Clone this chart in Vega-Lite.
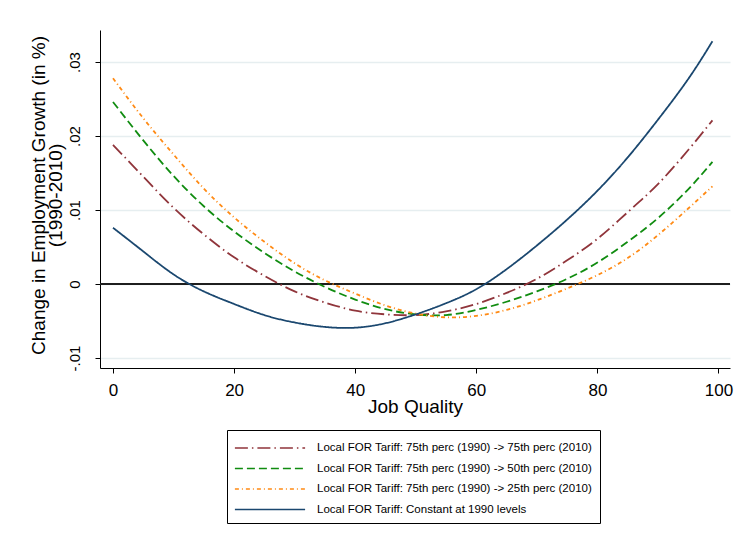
{
  "$schema": "https://vega.github.io/schema/vega-lite/v6.json",
  "width": 630,
  "height": 338,
  "autosize": {"type": "none"},
  "padding": {"left": 100, "top": 30, "right": 11, "bottom": 177},
  "background": "white",
  "config": {
    "font": "Liberation Sans",
    "view": {"stroke": null},
    "axis": {"labelColor": "black", "titleColor": "black", "domainColor": "black", "tickColor": "black", "titleFontWeight": "normal", "labelFlush": false}
  },
  "datasets": {
    "curves": [
      {"x": 0, "s": "r", "y": 0.0188}, {"x": 5, "s": "r", "y": 0.0145}, {"x": 10, "s": "r", "y": 0.0103}, {"x": 15, "s": "r", "y": 0.0067}, {"x": 20, "s": "r", "y": 0.0036}, {"x": 25, "s": "r", "y": 0.0011}, {"x": 30, "s": "r", "y": -0.0010}, {"x": 35, "s": "r", "y": -0.0025}, {"x": 40, "s": "r", "y": -0.0036}, {"x": 45, "s": "r", "y": -0.0041}, {"x": 50, "s": "r", "y": -0.0042}, {"x": 55, "s": "r", "y": -0.0037}, {"x": 60, "s": "r", "y": -0.0027}, {"x": 65, "s": "r", "y": -0.0012}, {"x": 70, "s": "r", "y": 0.0007}, {"x": 75, "s": "r", "y": 0.0032}, {"x": 80, "s": "r", "y": 0.0061}, {"x": 85, "s": "r", "y": 0.0097}, {"x": 90, "s": "r", "y": 0.0135}, {"x": 95, "s": "r", "y": 0.0181}, {"x": 99, "s": "r", "y": 0.0221},
      {"x": 0, "s": "g", "y": 0.0246}, {"x": 5, "s": "g", "y": 0.0194}, {"x": 10, "s": "g", "y": 0.0146}, {"x": 15, "s": "g", "y": 0.0105}, {"x": 20, "s": "g", "y": 0.0071}, {"x": 25, "s": "g", "y": 0.0042}, {"x": 30, "s": "g", "y": 0.0017}, {"x": 35, "s": "g", "y": -0.0004}, {"x": 40, "s": "g", "y": -0.0021}, {"x": 45, "s": "g", "y": -0.0034}, {"x": 50, "s": "g", "y": -0.0041}, {"x": 55, "s": "g", "y": -0.0042}, {"x": 60, "s": "g", "y": -0.0035}, {"x": 65, "s": "g", "y": -0.0024}, {"x": 70, "s": "g", "y": -0.0010}, {"x": 75, "s": "g", "y": 0.0007}, {"x": 80, "s": "g", "y": 0.0029}, {"x": 85, "s": "g", "y": 0.0057}, {"x": 90, "s": "g", "y": 0.0089}, {"x": 95, "s": "g", "y": 0.0128}, {"x": 99, "s": "g", "y": 0.0165},
      {"x": 0, "s": "o", "y": 0.0278}, {"x": 5, "s": "o", "y": 0.0224}, {"x": 10, "s": "o", "y": 0.0175}, {"x": 15, "s": "o", "y": 0.0129}, {"x": 20, "s": "o", "y": 0.0090}, {"x": 25, "s": "o", "y": 0.0057}, {"x": 30, "s": "o", "y": 0.0028}, {"x": 35, "s": "o", "y": 0.0005}, {"x": 40, "s": "o", "y": -0.0013}, {"x": 45, "s": "o", "y": -0.0029}, {"x": 50, "s": "o", "y": -0.0040}, {"x": 55, "s": "o", "y": -0.0045}, {"x": 60, "s": "o", "y": -0.0043}, {"x": 65, "s": "o", "y": -0.0035}, {"x": 70, "s": "o", "y": -0.0022}, {"x": 75, "s": "o", "y": -0.0006}, {"x": 80, "s": "o", "y": 0.0012}, {"x": 85, "s": "o", "y": 0.0035}, {"x": 90, "s": "o", "y": 0.0066}, {"x": 95, "s": "o", "y": 0.0102}, {"x": 99, "s": "o", "y": 0.0132},
      {"x": 0, "s": "b", "y": 0.0076}, {"x": 5, "s": "b", "y": 0.0044}, {"x": 10, "s": "b", "y": 0.0013}, {"x": 15, "s": "b", "y": -0.0010}, {"x": 20, "s": "b", "y": -0.0027}, {"x": 25, "s": "b", "y": -0.0042}, {"x": 30, "s": "b", "y": -0.0052}, {"x": 35, "s": "b", "y": -0.0058}, {"x": 40, "s": "b", "y": -0.0059}, {"x": 45, "s": "b", "y": -0.0053}, {"x": 50, "s": "b", "y": -0.0041}, {"x": 55, "s": "b", "y": -0.0026}, {"x": 60, "s": "b", "y": -0.0007}, {"x": 65, "s": "b", "y": 0.0020}, {"x": 70, "s": "b", "y": 0.0052}, {"x": 75, "s": "b", "y": 0.0087}, {"x": 80, "s": "b", "y": 0.0126}, {"x": 85, "s": "b", "y": 0.0171}, {"x": 90, "s": "b", "y": 0.0222}, {"x": 95, "s": "b", "y": 0.0277}, {"x": 99, "s": "b", "y": 0.0328}
    ]
  },
  "encoding": {
    "y": {
      "field": "y",
      "type": "quantitative",
      "scale": {"domain": [-0.01135, 0.03432], "nice": false, "zero": false},
      "axis": {
        "values": [-0.01, 0, 0.01, 0.02, 0.03],
        "labelExpr": "replace('' + datum.value, '0.', '.')",
        "grid": true,
        "gridColor": "#e6eef0",
        "gridWidth": 1.5,
        "labelAngle": -90,
        "labelAlign": "center",
        "labelBaseline": "alphabetic",
        "labelPadding": 16,
        "tickSize": 5,
        "labelFontSize": 15,
        "title": ["Change in Employment Growth (in %)", "(1990-2010)"],
        "titleFontSize": 19,
        "titleAngle": -90,
        "titleAlign": "center",
        "titleBaseline": "alphabetic",
        "titleX": -56,
        "titleY": 165,
        "titleLineHeight": 17
      }
    }
  },
  "layer": [
    {
      "data": {"values": [{"y": 0}]},
      "mark": {"type": "rule", "color": "#1e1e1e", "strokeWidth": 2},
      "encoding": {}
    },
    {
      "data": {"name": "curves"},
      "mark": {"type": "line", "interpolate": "natural", "strokeWidth": 1.8},
      "encoding": {
        "x": {
          "field": "x",
          "type": "quantitative",
          "scale": {"domain": [-2.147, 101.9], "nice": false, "zero": false},
          "axis": {
            "values": [0, 20, 40, 60, 80, 100],
            "grid": false,
            "title": "Job Quality",
            "tickSize": 5,
            "labelPadding": 9,
            "labelFontSize": 17,
            "titleFontSize": 19,
            "titleY": 29,
            "titleBaseline": "top"
          }
        },
        "color": {
          "field": "s",
          "type": "nominal",
          "scale": {"domain": ["r", "g", "o", "b"], "range": ["#90353b", "#108c10", "#ff8a14", "#1a476f"]},
          "legend": {
            "title": null,
            "orient": "none",
            "legendX": 127,
            "legendY": 400,
            "direction": "vertical",
            "padding": 8,
            "strokeColor": "black",
            "fillColor": "white",
            "labelFontSize": 11.5,
            "labelColor": "black",
            "labelLimit": 0,
            "symbolType": "M-3.9,0L3.9,0",
            "symbolSize": 324,
            "symbolStrokeWidth": 1.7,
            "symbolOffset": 25,
            "labelOffset": 37,
            "rowPadding": 4.5,
            "labelExpr": "datum.value == 'r' ? 'Local FOR Tariff: 75th perc (1990) -> 75th perc (2010)' : datum.value == 'g' ? 'Local FOR Tariff: 75th perc (1990) -> 50th perc (2010)' : datum.value == 'o' ? 'Local FOR Tariff: 75th perc (1990) -> 25th perc (2010)' : 'Local FOR Tariff: Constant at 1990 levels'"
          }
        },
        "strokeDash": {
          "field": "s",
          "type": "nominal",
          "scale": {"domain": ["r", "g", "o", "b"], "range": [[13, 4, 1.5, 4], [8, 4], [4, 3, 1, 3], [1, 0]]},
          "legend": {
            "title": null,
            "orient": "none",
            "legendX": 127,
            "legendY": 400,
            "direction": "vertical",
            "padding": 8,
            "strokeColor": "black",
            "fillColor": "white",
            "labelFontSize": 11.5,
            "labelColor": "black",
            "labelLimit": 0,
            "symbolType": "M-3.9,0L3.9,0",
            "symbolSize": 324,
            "symbolStrokeWidth": 1.7,
            "symbolOffset": 25,
            "labelOffset": 37,
            "rowPadding": 4.5,
            "labelExpr": "datum.value == 'r' ? 'Local FOR Tariff: 75th perc (1990) -> 75th perc (2010)' : datum.value == 'g' ? 'Local FOR Tariff: 75th perc (1990) -> 50th perc (2010)' : datum.value == 'o' ? 'Local FOR Tariff: 75th perc (1990) -> 25th perc (2010)' : 'Local FOR Tariff: Constant at 1990 levels'"
          }
        }
      }
    }
  ]
}
